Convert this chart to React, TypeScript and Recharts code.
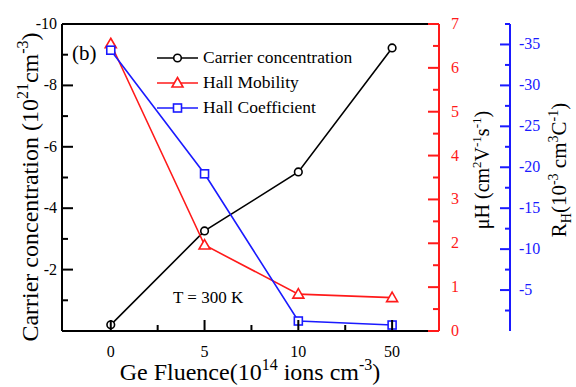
import {
  ComposedChart, Line, XAxis, YAxis, ReferenceLine, Legend,
} from 'recharts';

const fluence = ['0', '5', '10', '50'];
const carrierConc = [-0.2, -3.26, -5.18, -9.22];
const hallMobility = [6.55, 1.96, 0.84, 0.76];
const hallCoeff = [-34.3, -19.2, -1.22, -0.73];

const xTicks = [0, 0.5, 1, 1.5, 2, 2.5, 3];
const concTicks = [-10, -9, -8, -7, -6, -5, -4, -3, -2, -1];
const muTicks = [0, 0.5, 1, 1.5, 2, 2.5, 3, 3.5, 4, 4.5, 5, 5.5, 6, 6.5, 7];
const rhTicks = [-37.5, -35, -32.5, -30, -27.5, -25, -22.5, -20, -17.5, -15, -12.5, -10, -7.5, -5, -2.5];

const data = fluence.map((f, i) => ({
  idx: i,
  label: f,
  conc: carrierConc[i],
  mu: hallMobility[i],
  rh: hallCoeff[i],
}));

const FONT = '"Liberation Serif", "Times New Roman", serif';
const RED = '#ff1a1a';
const BLUE = '#1a1aff';

const XTick = (props: any) => {
  const { x, y, payload } = props;
  const v = payload.value;
  const major = Number.isInteger(v);
  return (
    <g>
      <line x1={x} x2={x} y1={y} y2={y - (major ? 11 : 6)} stroke="#000" strokeWidth={2} />
      {major && (
        <text x={x} y={y + 26} textAnchor="middle" fontSize={16} fontFamily={FONT} fill="#000">
          {fluence[v]}
        </text>
      )}
    </g>
  );
};

const ConcTick = (props: any) => {
  const { x, y, payload } = props;
  const v = payload.value;
  const major = v % 2 === 0;
  return (
    <g>
      <line x1={x} x2={x + (major ? 11 : 6)} y1={y} y2={y} stroke="#000" strokeWidth={2} />
      {major && (
        <text x={x - 5} y={y + 5} textAnchor="end" fontSize={16} fontFamily={FONT} fill="#000">
          {v}
        </text>
      )}
    </g>
  );
};

const MuTick = (props: any) => {
  const { x, y, payload } = props;
  const v = payload.value;
  const major = Number.isInteger(v);
  return (
    <g>
      <line x1={x} x2={x - (major ? 11 : 6)} y1={y} y2={y} stroke={RED} strokeWidth={2} />
      {major && (
        <text x={x + 12} y={y + 5} textAnchor="start" fontSize={16} fontFamily={FONT} fill={RED}>
          {v}
        </text>
      )}
    </g>
  );
};

const RhTick = (props: any) => {
  const { x, y, payload } = props;
  const v = payload.value;
  const major = v % 5 === 0;
  return (
    <g>
      <line x1={x} x2={x - (major ? 10 : 5)} y1={y} y2={y} stroke={BLUE} strokeWidth={2} />
      {major && (
        <text x={x + 9} y={y + 5} textAnchor="start" fontSize={16} fontFamily={FONT} fill={BLUE}>
          {v}
        </text>
      )}
    </g>
  );
};

const Triangle = (props: any) => {
  const { cx, cy, key } = props;
  if (cx == null || cy == null) return <g key={key} />;
  return (
    <path key={key} d={`M${cx},${cy - 5.5} L${cx + 5.5},${cy + 4} L${cx - 5.5},${cy + 4} Z`}
      fill="#fff" stroke={RED} strokeWidth={1.6} />
  );
};

const Square = (props: any) => {
  const { cx, cy, key } = props;
  if (cx == null || cy == null) return <g key={key} />;
  return <rect key={key} x={cx - 4} y={cy - 4} width={8} height={8} fill="#fff" stroke={BLUE} strokeWidth={1.6} />;
};

const legendItems = [
  { name: 'Carrier concentration', color: '#000', shape: 'circle' },
  { name: 'Hall Mobility', color: RED, shape: 'triangle' },
  { name: 'Hall Coefficient', color: BLUE, shape: 'square' },
];

const renderLegend = () => (
  <div style={{ fontFamily: FONT, fontSize: 17.5, color: '#000' }}>
    {legendItems.map((it) => (
      <div key={it.name} style={{ display: 'flex', alignItems: 'center', height: 25 }}>
        <svg width={44} height={14} style={{ marginRight: 3 }}>
          <line x1={1} x2={42} y1={7} y2={7} stroke={it.color} strokeWidth={1.6} />
          {it.shape === 'circle' && <circle cx={21.5} cy={7} r={3.8} fill="#fff" stroke={it.color} strokeWidth={1.6} />}
          {it.shape === 'triangle' && <path d="M21.5,1.5 L27,11 L16,11 Z" fill="#fff" stroke={it.color} strokeWidth={1.6} />}
          {it.shape === 'square' && <rect x={17.5} y={3} width={8} height={8} fill="#fff" stroke={it.color} strokeWidth={1.6} />}
        </svg>
        <span>{it.name}</span>
      </div>
    ))}
  </div>
);

export default function App() {
  return (
    <div style={{ position: 'absolute', left: 0, top: 0, width: 576, height: 387, background: '#fff' }}>
      <ComposedChart width={576} height={387} data={data} margin={{ top: 24, right: 0, bottom: 0, left: 0 }}>
        <XAxis dataKey="idx" type="number" domain={[-0.52, 3.5]} allowDataOverflow ticks={xTicks}
          height={56} tickSize={0} tickMargin={0} tick={<XTick />} axisLine={{ stroke: '#000', strokeWidth: 2 }} interval={0} />
        <YAxis yAxisId="c" orientation="left" width={62} domain={[-10, 0]} reversed allowDataOverflow
          ticks={concTicks} tickSize={0} tickMargin={0} tick={<ConcTick />} interval={0}
          axisLine={{ stroke: '#000', strokeWidth: 2 }} />
        <YAxis yAxisId="mu" orientation="right" width={71} domain={[0, 7]} allowDataOverflow
          ticks={muTicks} tickSize={0} tickMargin={0} tick={<MuTick />} interval={0}
          axisLine={{ stroke: RED, strokeWidth: 2 }} />
        <YAxis yAxisId="rh" orientation="right" width={66} domain={[-37.5, 0]} reversed allowDataOverflow
          ticks={rhTicks} tickSize={0} tickMargin={0} tick={<RhTick />} interval={0}
          axisLine={{ stroke: BLUE, strokeWidth: 2 }} />
        <ReferenceLine yAxisId="c" y={-10} stroke="#000" strokeWidth={2} />
        <Legend layout="horizontal" verticalAlign="middle" align="center" content={renderLegend}
          wrapperStyle={{ left: 156, top: 45, width: 240, height: 76 }} />
        <Line yAxisId="c" dataKey="conc" name="Carrier concentration" stroke="#000" strokeWidth={1.6}
          dot={{ r: 3.8, fill: '#fff', stroke: '#000', strokeWidth: 1.6 }} isAnimationActive={false} />
        <Line yAxisId="mu" dataKey="mu" name="Hall Mobility" stroke={RED} strokeWidth={1.6}
          dot={<Triangle />} isAnimationActive={false} />
        <Line yAxisId="rh" dataKey="rh" name="Hall Coefficient" stroke={BLUE} strokeWidth={1.6}
          dot={<Square />} isAnimationActive={false} />
      </ComposedChart>
      <svg width={576} height={387} style={{ position: 'absolute', left: 0, top: 0, pointerEvents: 'none' }}
        fontFamily={FONT}>
        <text x={72} y={60} fontSize={21} fill="#000">(b)</text>
        <text x={173} y={303} fontSize={17} fill="#000">T = 300 K</text>
        <text x={250} y={380} fontSize={24} textAnchor="middle" fill="#000">
          Ge Fluence(10<tspan dy={-10} fontSize={16}>14</tspan>
          <tspan dy={10}> ions cm</tspan><tspan dy={-10} fontSize={16}>-3</tspan><tspan dy={10}>)</tspan>
        </text>
        <text transform="translate(38,187) rotate(-90)" fontSize={24} textAnchor="middle" fill="#000">
          Carrier concentration (10<tspan dy={-10} fontSize={16}>21</tspan>
          <tspan dy={10}>cm</tspan><tspan dy={-10} fontSize={16}>-3</tspan><tspan dy={10}>)</tspan>
        </text>
        <text transform="translate(489,170) rotate(-90)" fontSize={20} textAnchor="middle" fill="#000">
          μH (cm<tspan dy={-8} fontSize={13}>2</tspan><tspan dy={8}>V</tspan>
          <tspan dy={-8} fontSize={13}>-1</tspan><tspan dy={8}>s</tspan>
          <tspan dy={-8} fontSize={13}>-1</tspan><tspan dy={8}>)</tspan>
        </text>
        <text transform="translate(566,170) rotate(-90)" fontSize={21} textAnchor="middle" fill="#000">
          R<tspan dy={5} fontSize={14}>H</tspan><tspan dy={-5}>(10</tspan>
          <tspan dy={-8} fontSize={14}>-3</tspan><tspan dy={8}> cm</tspan>
          <tspan dy={-8} fontSize={14}>3</tspan><tspan dy={8}>C</tspan>
          <tspan dy={-8} fontSize={14}>-1</tspan><tspan dy={8}>)</tspan>
        </text>
      </svg>
    </div>
  );
}
